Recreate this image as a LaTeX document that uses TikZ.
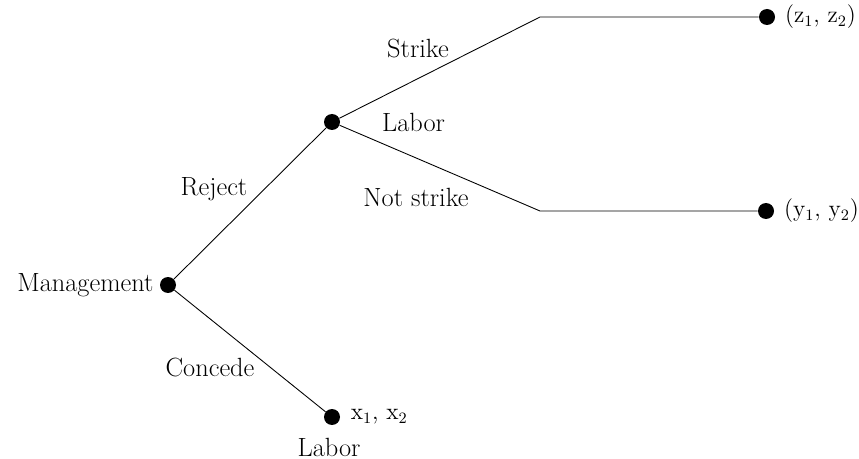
\documentclass[tikz,border=0pt]{standalone}
\usepackage{tikz}
\usetikzlibrary{positioning}
\begin{document}
\begin{tikzpicture}[x=0.02cm,y=-0.02cm]
        \tikzset{dot/.style={circle,fill,inner sep=0pt,minimum size=0.32cm},
                 lbl/.style={font=\fontsize{15}{18}\selectfont},
                 payoff/.style={font=\fontsize{13.5}{16}\selectfont},
                 branch/.style={line width=0.5pt}}
        \useasboundingbox (0,0) rectangle (859,459);
        % decision nodes
        \node[dot] (mgmt) at (168,285) {};
        \node[dot] (labor) at (332,122) {};
        \node[dot] (concede) at (332,417) {};
        \node[dot] (strike) at (767,17) {};
        \node[dot] (notstrike) at (766,211) {};
        \coordinate (sbend) at (540,17);
        \coordinate (nbend) at (540,211);
        % branches
        \draw[branch] (mgmt) -- (labor);
        \draw[branch] (mgmt) -- (concede);
        \draw[branch] (labor) -- (sbend) -- (strike);
        \draw[branch] (labor) -- (nbend) -- (notstrike);
        % players and payoffs
        \node[lbl,left=0pt of mgmt] {Management};
        \node[lbl,anchor=west] at (376,122) {Labor};
        \node[lbl] at (329,447) {Labor};
        \node[payoff,right=2.5pt of concede] {x$_1$, x$_2$};
        \node[payoff,right=2pt of strike] {(z$_1$, z$_2$)};
        \node[payoff,right=2pt of notstrike] {(y$_1$, y$_2$)};
        % actions
        \node[lbl] at (214,189) {Reject};
        \node[lbl] at (210,368) {Concede};
        \node[lbl] at (418,49) {Strike};
        \node[lbl] at (416,197) {Not strike};
\end{tikzpicture}
\end{document}
